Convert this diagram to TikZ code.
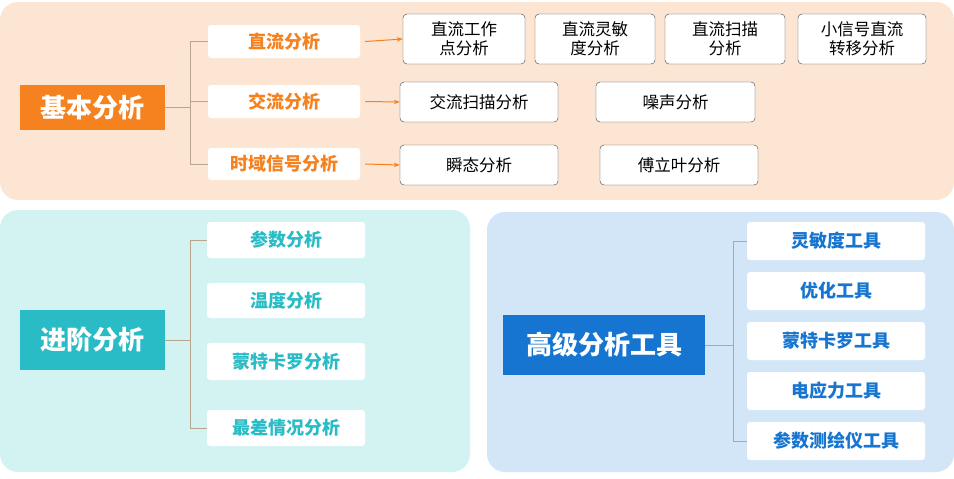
\documentclass[tikz,border=0pt]{standalone}
\usepackage{fontspec}
\setmainfont{Noto Sans CJK SC}
\usetikzlibrary{arrows.meta}
\definecolor{peach}{HTML}{FCE6D3}
\definecolor{aqua}{HTML}{D3F3F3}
\definecolor{skyb}{HTML}{D3E6F8}
\definecolor{orng}{HTML}{F5821F}
\definecolor{teal2}{HTML}{29BCC6}
\definecolor{blue2}{HTML}{1675D0}
\definecolor{brk}{HTML}{B9A48F}
\tikzset{
  panel/.style={rounded corners=18pt},
  mainbox/.style={font=\bfseries\fontsize{26}{30}\selectfont, text=white, inner sep=0pt},
  subbox/.style={fill=white, rounded corners=3pt, font=\bfseries\fontsize{18}{21}\selectfont, inner sep=0pt},
  leaf/.style={draw=black!75, fill=white, rounded corners=4pt, font=\fontsize{16.5}{19}\selectfont, align=center, inner sep=0pt},
  brkline/.style={draw=brk, line width=1pt},
  arr/.style={-{Stealth[length=6pt]}, orng, line width=1pt}
}
\newcommand{\boxat}[6]{% style, name, x1, y1, x2, y2 + text via next
  \node[#1, minimum width=#5-#3, minimum height=#6-#4] (#2) at ({(#3+#5)/2},{(#4+#6)/2})}
\begin{document}
\begin{tikzpicture}[x=1pt,y=-1pt]
\useasboundingbox (0,0) rectangle (954,479);
% panels
\fill[peach,panel] (0,2) rectangle (954,200);
\fill[aqua,panel] (0,210) rectangle (470,472);
\fill[skyb,panel] (487,212) rectangle (954,472);

% basic analysis
\boxat{mainbox,fill=orng}{basic}{20}{85}{165}{130} {基本分析};
\boxat{subbox,text=orng}{dc}{208}{25}{360}{58} {直流分析};
\boxat{subbox,text=orng}{ac}{208}{85}{360}{118} {交流分析};
\boxat{subbox,text=orng}{td}{208}{148}{360}{180} {时域信号分析};
\draw[brkline] (basic.east) -- (190,107.5);
\draw[brkline] (dc.west) -| (190,164) -- (td.west);
\draw[brkline] (190,101.5) -- (ac.west);
\boxat{leaf}{dcop}{403}{14}{525}{64} {直流工作\\点分析};
\boxat{leaf}{dcsens}{535}{14}{655}{64} {直流灵敏\\度分析};
\boxat{leaf}{dcsweep}{665}{14}{785}{64} {直流扫描\\分析};
\boxat{leaf}{dctf}{798}{14}{926}{64} {小信号直流\\转移分析};
\boxat{leaf}{acsweep}{400}{82}{558}{122} {交流扫描分析};
\boxat{leaf}{noise}{596}{82}{755}{122} {噪声分析};
\boxat{leaf}{tran}{400}{145}{558}{185} {瞬态分析};
\boxat{leaf}{four}{600}{145}{758}{185} {傅立叶分析};
\draw[arr] (dc.east) ++(5,0) -- (dcop.west);
\draw[arr] (ac.east) ++(5,0) -- (acsweep.west);
\draw[arr] (td.east) ++(5,0) -- (tran.west);

% advanced analysis
\boxat{mainbox,fill=teal2}{adv}{20}{310}{165}{370} {进阶分析};
\boxat{subbox,text=teal2}{param}{207}{222}{365}{258} {参数分析};
\boxat{subbox,text=teal2}{temp}{207}{283}{365}{318} {温度分析};
\boxat{subbox,text=teal2}{mc}{207}{343}{365}{380} {蒙特卡罗分析};
\boxat{subbox,text=teal2}{worst}{207}{410}{365}{446} {最差情况分析};
\draw[brkline] (adv.east) -- (190,340);
\draw[brkline] (param.west) -| (190,428) -- (worst.west);

% tools
\boxat{mainbox,fill=blue2}{tools}{503}{315}{705}{375} {高级分析工具};
\boxat{subbox,text=blue2}{sens}{747}{222}{925}{260} {灵敏度工具};
\boxat{subbox,text=blue2}{opt}{747}{272}{925}{310} {优化工具};
\boxat{subbox,text=blue2}{mct}{747}{322}{925}{360} {蒙特卡罗工具};
\boxat{subbox,text=blue2}{stress}{747}{372}{925}{410} {电应力工具};
\boxat{subbox,text=blue2}{plot}{747}{422}{925}{460} {参数测绘仪工具};
\draw[brkline] (tools.east) -- (733,345);
\draw[brkline] (sens.west) -| (733,441) -- (plot.west);
\end{tikzpicture}
\end{document}
